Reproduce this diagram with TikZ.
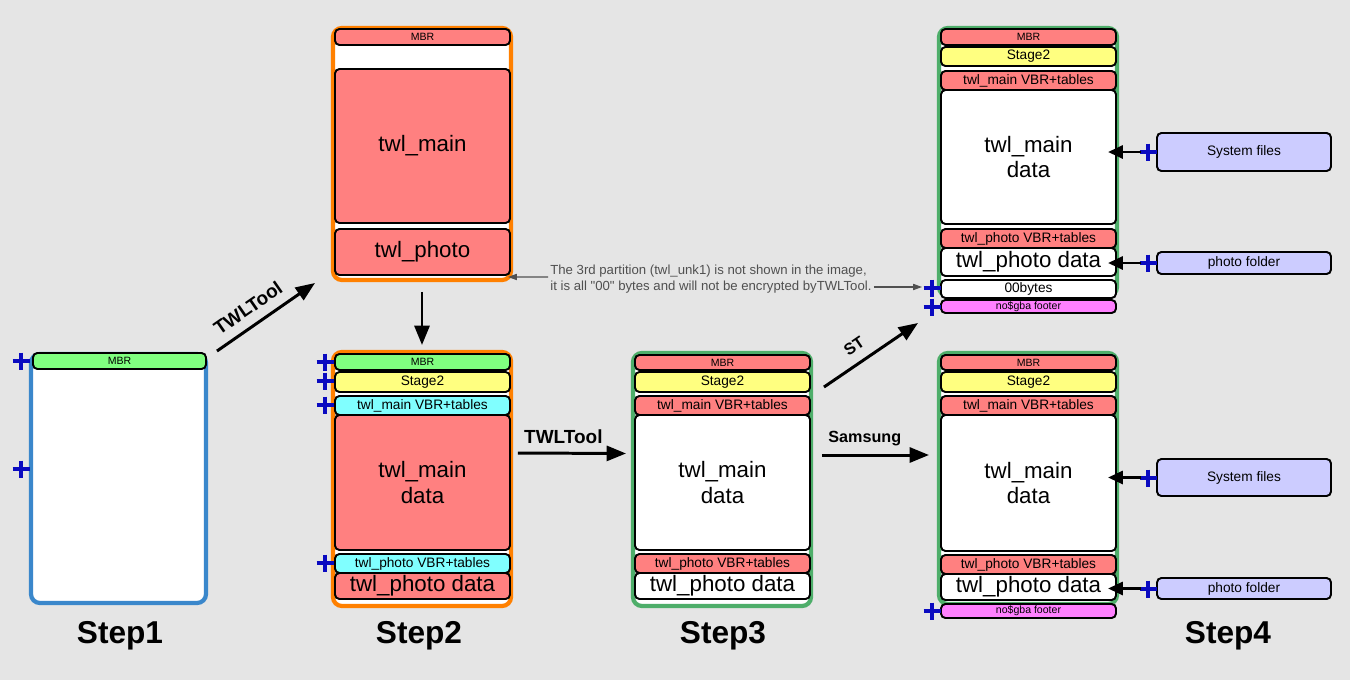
\documentclass[tikz,border=0pt]{standalone}
\usepackage{fontspec}
\setmainfont{Liberation Sans}
\usetikzlibrary{arrows.meta}

\definecolor{bggray}{HTML}{E5E5E5}
\definecolor{partred}{HTML}{FF8080}
\definecolor{partgreen}{HTML}{80FF80}
\definecolor{partyellow}{HTML}{FFFF80}
\definecolor{partcyan}{HTML}{80FFFF}
\definecolor{partpink}{HTML}{FF80FF}
\definecolor{partlilac}{HTML}{CCCCFF}
\definecolor{diskblue}{HTML}{3A87CB}
\definecolor{diskorange}{HTML}{FF8000}
\definecolor{diskgreen}{HTML}{4EAE6A}
\definecolor{plusblue}{HTML}{0A0AC0}
\definecolor{hintgray}{HTML}{505050}

\begin{document}
\begin{tikzpicture}[
  x=0.02cm, y=-0.02cm,
  disk/.style={draw, line width=2.4pt, rounded corners=5pt, fill=white,
    inner sep=0pt, outer sep=0pt, minimum width=3.56cm},
  part/.style={draw, line width=1.1pt, rounded corners=2.5pt, inner sep=0pt,
    outer sep=0pt, align=center, minimum width=3.5cm, font=\fontsize{7.8}{9}\selectfont},
  big/.style={font=\fontsize{12.7}{14.7}\selectfont},
  small/.style={font=\fontsize{6}{7}\selectfont},
  steplabel/.style={font=\fontsize{18}{20}\selectfont\bfseries},
  flowlabel/.style={font=\fontsize{10.8}{12}\selectfont\bfseries},
  plusmark/.style={draw=plusblue, line width=2pt},
  flow/.style={line width=1.7pt, -{Triangle[length=11pt, width=8.5pt]}},
  feed/.style={line width=1.7pt, -{Triangle[length=8.5pt, width=7.4pt]}},
  hint/.style={draw=hintgray, line width=0.6pt, -{Triangle[length=5pt, width=3.5pt]}},
]
  % Hintergrund
  \fill[bggray] (0,0) rectangle (1350,680);
  \useasboundingbox (0,0) rectangle (1350,680);

  % Step1
  \node[disk, draw=diskblue, minimum width=3.5cm, minimum height=4.98cm] (s1) at (118.5,478.5) {};
  \node[part, small, fill=partgreen, minimum width=3.46cm, minimum height=0.32cm] (s1mbr) at (119.5,361) {MBR};

  % Step2 (oben)
  \node[disk, draw=diskorange, minimum height=5.04cm] (s2a) at (422,154) {};
  \node[part, small, fill=partred, minimum height=0.32cm] (s2ambr) at (422.5,37) {MBR};
  \node[part, big, fill=partred, minimum height=3.08cm] (s2amain) at (422.5,146) {twl\_main};
  \node[part, big, fill=partred, minimum height=0.92cm] (s2aphoto) at (422.5,252) {twl\_photo};

  % Step2 (unten)
  \node[disk, draw=diskorange, minimum height=5.08cm] (s2b) at (422,479) {};
  \node[part, small, fill=partgreen, minimum height=0.32cm] (s2bmbr) at (422.5,362) {MBR};
  \node[part, fill=partyellow, minimum height=0.40cm] (s2bstage) at (422.5,382) {Stage2};
  \node[part, fill=partcyan, minimum height=0.38cm] (s2bmvbr) at (422.5,405.5) {twl\_main VBR+tables};
  \node[part, big, fill=partred, minimum height=2.70cm] (s2bmain) at (422.5,482.5) {twl\_main\\data};
  \node[part, fill=partcyan, minimum height=0.38cm] (s2bpvbr) at (422.5,563.5) {twl\_photo VBR+tables};
  \node[part, big, fill=partred, minimum height=0.52cm] (s2bphoto) at (422.5,586) {twl\_photo data};

  % Step3
  \node[disk, draw=diskgreen, minimum height=5.06cm] (s3) at (722,479.5) {};
  \node[part, small, fill=partred, minimum height=0.30cm] (s3mbr) at (722.5,362.5) {MBR};
  \node[part, fill=partyellow, minimum height=0.40cm] (s3stage) at (722.5,382) {Stage2};
  \node[part, fill=partred, minimum height=0.38cm] (s3mvbr) at (722.5,405.5) {twl\_main VBR+tables};
  \node[part, big, fill=white, minimum height=2.70cm] (s3main) at (722.5,482.5) {twl\_main\\data};
  \node[part, fill=partred, minimum height=0.38cm] (s3pvbr) at (722.5,563.5) {twl\_photo VBR+tables};
  \node[part, big, fill=white, minimum height=0.52cm] (s3photo) at (722.5,586) {twl\_photo data};

  % Step4 (oben)
  \node[disk, draw=diskgreen, minimum height=5.36cm] (s4a) at (1028,162) {};
  \node[part, small, fill=partred, minimum height=0.32cm] (s4ambr) at (1028.5,37) {MBR};
  \node[part, fill=partyellow, minimum height=0.38cm] (s4astage) at (1028.5,56.5) {Stage2};
  \node[part, fill=partred, minimum height=0.38cm] (s4amvbr) at (1028.5,80.5) {twl\_main VBR+tables};
  \node[part, big, fill=white, minimum height=2.68cm] (s4amain) at (1028.5,157) {twl\_main\\data};
  \node[part, fill=partred, minimum height=0.38cm] (s4apvbr) at (1028.5,238.5) {twl\_photo VBR+tables};
  \node[part, big, fill=white, minimum height=0.56cm] (s4aphoto) at (1028.5,262) {twl\_photo data};
  \node[part, fill=white, minimum height=0.36cm] (s4azero) at (1028.5,289) {00bytes};
  \node[part, small, fill=partpink, minimum height=0.26cm] (s4afoot) at (1028.5,306.5) {no\$gba footer};
  \node[part, fill=partlilac, minimum width=3.48cm, minimum height=0.76cm] (sysa) at (1244,152) {System files};
  \node[part, fill=partlilac, minimum width=3.48cm, minimum height=0.44cm] (fola) at (1244,263) {photo folder};

  % Step4 (unten)
  \node[disk, draw=diskgreen, minimum height=5.02cm] (s4b) at (1028,478.5) {};
  \node[part, small, fill=partred, minimum height=0.30cm] (s4bmbr) at (1028.5,362.5) {MBR};
  \node[part, fill=partyellow, minimum height=0.40cm] (s4bstage) at (1028.5,382) {Stage2};
  \node[part, fill=partred, minimum height=0.38cm] (s4bmvbr) at (1028.5,405.5) {twl\_main VBR+tables};
  \node[part, big, fill=white, minimum height=2.72cm] (s4bmain) at (1028.5,483) {twl\_main\\data};
  \node[part, fill=partred, minimum height=0.38cm] (s4bpvbr) at (1028.5,564.5) {twl\_photo VBR+tables};
  \node[part, big, fill=white, minimum height=0.52cm] (s4bphoto) at (1028.5,587) {twl\_photo data};
  \node[part, small, fill=partpink, minimum height=0.28cm] (s4bfoot) at (1028.5,611) {no\$gba footer};
  \node[part, fill=partlilac, minimum width=3.48cm, minimum height=0.74cm] (sysb) at (1244,477.5) {System files};
  \node[part, fill=partlilac, minimum width=3.48cm, minimum height=0.42cm] (folb) at (1244,588.5) {photo folder};

  % Pluszeichen
  \foreach \px/\py in {21/361, 21/469, 325/362, 325/381, 325/405, 325/563,
                       932/288, 932/307, 932/611,
                       1148/152, 1148/263, 1148/478, 1148/589}
    \draw[plusmark] (\px-8.5,\py) -- (\px+8.5,\py) (\px,\py-8.5) -- (\px,\py+8.5);

  % Pfeile
  \draw[flow] ([shift={(11,-3)}]s1.north east) -- ([shift={(-18,3)}]s2a.south west)
    node[flowlabel, pos=0.42, sloped, above=2pt] {TWLTool};
  \draw[flow, shorten <=0.24cm, shorten >=0.14cm] (s2a.south) -- (s2a.south |- s2b.north);
  \draw[flow] ([shift={(7,-26)}]s2b.east) -- ([shift={(-7,-26)}]s3.west)
    node[flowlabel, pos=0.42, above=1pt] {TWLTool};
  \draw[flow] ([shift={(13,34)}]s3.north east) -- ([shift={(-21,27)}]s4a.south west)
    node[flowlabel, font=\fontsize{9.2}{11}\selectfont\bfseries, pos=0.42, sloped, above=2pt] {ST};
  \draw[flow] ([shift={(11,-24.5)}]s3.east) -- ([shift={(-10,-23.5)}]s4b.west)
    node[flowlabel, font=\fontsize{9.2}{11}\selectfont\bfseries, pos=0.4, above=1pt] {Samsung};

  % Dateien -> Partitionen
  \draw[feed, shorten <=0.32cm, shorten >=-0.16cm] (sysa.west) -- (sysa.west -| s4amain.east);
  \draw[feed, shorten <=0.32cm, shorten >=-0.16cm] (fola.west) -- (fola.west -| s4aphoto.east);
  \draw[feed, shorten <=0.32cm, shorten >=-0.16cm] (sysb.west) -- (sysb.west -| s4bmain.east);
  \draw[feed, shorten <=0.32cm, shorten >=-0.16cm] (folb.west) -- (folb.west -| s4bphoto.east);

  % Hinweis
  \node[anchor=west, align=left, inner sep=0pt, text=hintgray,
    font=\fontsize{7.5}{9}\selectfont] (note) at (550,279)
    {The 3rd partition (twl\_unk1) is not shown in the image,\\
     it is all \textquotedbl 00\textquotedbl\ bytes and will not be encrypted byTWLTool.};
  \draw[hint] ([shift={(-2,-2)}]note.west) -- ([shift={(-3,-3)}]s2a.south east);
  \draw[hint] ([shift={(2,8)}]note.east) -- ([shift={(-19,-2)}]s4azero.west);

  % Beschriftung
  \node[steplabel] (lab1) at (120,636) {Step1};
  \node[steplabel] (lab2) at (419,636) {Step2};
  \node[steplabel] (lab3) at (723,636) {Step3};
  \node[steplabel] (lab4) at (1228,636) {Step4};
\end{tikzpicture}
\end{document}
